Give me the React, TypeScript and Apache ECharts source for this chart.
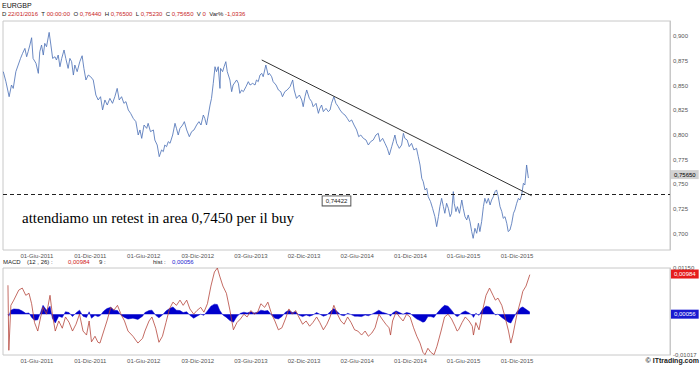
import React, { useEffect, useRef } from "react";
import * as echarts from "echarts";

const DAY = 86400000;
const BASE_DATE = "2011-06-01";

// x-axis ticks
const xTickDates = ["2011-06-01", "2011-12-01", "2012-06-01", "2012-12-03", "2013-06-03", "2013-12-02", "2014-06-02", "2014-12-01", "2015-06-01", "2015-12-01"];
const xTickLabels = ["01-Giu-2011", "01-Dic-2011", "01-Giu-2012", "03-Dic-2012", "03-Giu-2013", "02-Dic-2013", "02-Giu-2014", "01-Dic-2014", "01-Giu-2015", "01-Dic-2015"];
const xRange = ["2011-02-05", "2017-05-08"];

const priceTicks = [0.7, 0.725, 0.75, 0.775, 0.8, 0.825, 0.85, 0.875, 0.9];
const priceRange = [0.6838, 0.9152];
const macdRange = [-0.01017, 0.0115];
const macdTicks = [-0.01017, 0.0115];

// price (days after 2011-06-01, close)
const priceDays = [
  -115, -106, -95, -87, -81, -72, -64, -56, -49, -41,
  -35, -30, -24, -18, -13, -3, 5, 10, 16, 22,
  27, 33, 42, 48, 54, 62, 67, 73, 79, 85,
  93, 99, 107, 113, 119, 125, 130, 138, 147, 155,
  161, 168, 176, 184, 193, 202, 210, 218, 225, 233,
  241, 250, 259, 267, 275, 282, 290, 298, 305, 313,
  321, 330, 339, 347, 353, 359, 367, 376, 381, 389,
  399, 404, 412, 419, 427, 433, 438, 444, 450, 456,
  465, 473, 478, 484, 490, 499, 505, 513, 522, 530,
  538, 547, 555, 562, 570, 575, 581, 587, 593, 598,
  604, 610, 615, 621, 627, 629, 636, 641, 647, 652,
  661, 667, 672, 684, 690, 695, 701, 707, 716, 724,
  730, 739, 747, 752, 758, 764, 770, 775, 784, 792,
  796, 804, 809, 819, 827, 835, 841, 849, 857, 867,
  876, 881, 889, 899, 907, 912, 918, 924, 933, 941,
  946, 956, 964, 969, 975, 981, 990, 998, 1004, 1009,
  1017, 1024, 1032, 1038, 1047, 1055, 1063, 1070, 1078, 1086,
  1095, 1102, 1109, 1118, 1127, 1135, 1143, 1152, 1161, 1169,
  1175, 1184, 1192, 1200, 1207, 1215, 1220, 1226, 1232, 1241,
  1249, 1255, 1260, 1268, 1275, 1283, 1291, 1300, 1306, 1312,
  1318, 1323, 1329, 1335, 1340, 1348, 1355, 1363, 1369, 1375,
  1380, 1386, 1392, 1397, 1403, 1409, 1415, 1420, 1426, 1429,
  1435, 1440, 1447, 1455, 1460, 1466, 1472, 1477, 1483, 1489,
  1494, 1500, 1506, 1512, 1517, 1523, 1529, 1534, 1540, 1546,
  1552, 1557, 1563, 1569, 1574, 1580, 1586, 1592, 1597, 1603,
  1609, 1614, 1620, 1626, 1632, 1637, 1643, 1649, 1654, 1660,
  1666, 1671, 1677, 1683,
];
const priceValues = [
  0.864, 0.8539, 0.8387, 0.8505, 0.8471, 0.864, 0.8707, 0.8774, 0.8825, 0.8875,
  0.8791, 0.8842, 0.8909, 0.8983, 0.8774, 0.8724, 0.8623, 0.8842, 0.8909, 0.8808,
  0.8926, 0.8892, 0.9037, 0.8909, 0.8774, 0.8791, 0.8758, 0.8808, 0.869, 0.8774,
  0.8859, 0.8774, 0.8673, 0.8774, 0.8741, 0.8606, 0.8707, 0.864, 0.8741, 0.8801,
  0.8673, 0.8556, 0.8606, 0.8589, 0.8556, 0.8404, 0.8354, 0.8387, 0.8253, 0.8354,
  0.8303, 0.837, 0.832, 0.8387, 0.8471, 0.8354, 0.8387, 0.832, 0.8337, 0.8253,
  0.8219, 0.8168, 0.8135, 0.8, 0.8051, 0.7966, 0.8101, 0.8067, 0.8118, 0.8034,
  0.8051, 0.7949, 0.7899, 0.7781, 0.7849, 0.7832, 0.7899, 0.7882, 0.7933, 0.7916,
  0.8, 0.8118, 0.8067, 0.8, 0.8067, 0.8101, 0.8135, 0.8051, 0.7983, 0.8034,
  0.8051, 0.8101, 0.8135, 0.8101, 0.8202, 0.8168, 0.8101, 0.8202, 0.8303, 0.837,
  0.8522, 0.869, 0.864, 0.869, 0.8471, 0.8673, 0.864, 0.869, 0.8741, 0.864,
  0.8556, 0.8438, 0.8505, 0.8556, 0.8522, 0.8421, 0.8454, 0.8438, 0.8488, 0.8539,
  0.8505, 0.8522, 0.8505, 0.8556, 0.8539, 0.8606, 0.8623, 0.8589, 0.8707, 0.8606,
  0.8623, 0.8589, 0.8539, 0.8505, 0.8455, 0.8438, 0.8387, 0.8438, 0.8455, 0.8488,
  0.8556, 0.8455, 0.837, 0.8404, 0.8354, 0.8286, 0.8387, 0.8455, 0.837, 0.8337,
  0.8286, 0.832, 0.8219, 0.8269, 0.8303, 0.8236, 0.8269, 0.8236, 0.8253, 0.832,
  0.8387, 0.832, 0.8286, 0.8253, 0.8219, 0.8202, 0.8168, 0.8135, 0.8152, 0.8101,
  0.8051, 0.7983, 0.8, 0.7966, 0.795, 0.7899, 0.7933, 0.795, 0.8, 0.8017,
  0.7933, 0.7966, 0.7916, 0.7865, 0.7798, 0.7882, 0.7933, 0.8, 0.7916, 0.7865,
  0.7899, 0.8017, 0.7966, 0.795, 0.7882, 0.7916, 0.7849, 0.7865, 0.7781, 0.7697,
  0.7562, 0.7529, 0.7445, 0.7462, 0.7377, 0.7327, 0.7259, 0.7175, 0.7074, 0.7175,
  0.7276, 0.736, 0.7276, 0.7209, 0.731, 0.7259, 0.7175, 0.7209, 0.7428, 0.731,
  0.7226, 0.7276, 0.7209, 0.7343, 0.7259, 0.7175, 0.7142, 0.7192, 0.7125, 0.7024,
  0.6956, 0.7057, 0.7007, 0.7108, 0.7024, 0.7125, 0.7276, 0.736, 0.731, 0.736,
  0.7293, 0.7343, 0.7377, 0.7428, 0.7445, 0.7377, 0.7276, 0.7226, 0.7158, 0.7175,
  0.7108, 0.7024, 0.704, 0.7108, 0.7209, 0.7243, 0.731, 0.736, 0.7343, 0.7394,
  0.7512, 0.7495, 0.7697, 0.7565,
];

// MACD (12,26) line and histogram (days after 2011-06-01)
const macdDays = [
  -99, -96, -89, -79, -62, -50, -38, -27, -18, -8,
  3, 13, 21, 33, 45, 53, 63, 75, 87, 98,
  110, 122, 134, 146, 158, 170, 179, 187, 199, 209,
  216, 229, 240, 253, 264, 276, 288, 300, 312, 329,
  346, 362, 370, 384, 394, 407, 418, 430, 442, 454,
  466, 478, 490, 501, 513, 524, 537, 548, 561, 572,
  584, 596, 608, 618, 626, 637, 649, 661, 673, 685,
  697, 709, 720, 733, 744, 756, 767, 780, 791, 804,
  815, 827, 839, 851, 863, 875, 886, 897, 910, 922,
  934, 945, 958, 969, 981, 993, 1004, 1017, 1029, 1041,
  1052, 1064, 1076, 1088, 1099, 1112, 1124, 1135, 1147, 1158,
  1171, 1182, 1195, 1206, 1211, 1218, 1230, 1242, 1254, 1266,
  1278, 1290, 1301, 1312, 1322, 1329, 1339, 1349, 1360, 1370,
  1384, 1396, 1408, 1420, 1432, 1439, 1444, 1456, 1467, 1480,
  1491, 1495, 1503, 1514, 1526, 1538, 1550, 1562, 1570, 1579,
  1592, 1603, 1615, 1623, 1630, 1644, 1657, 1664, 1675, 1688,
];
const macdValues = [
  0.0072, -0.009, 0.0022, 0.0035, 0.006, 0.0065, 0.0047, 0.0052, 0.0026, -0.0021,
  -0.0042, -0.0007, 0.0017, 0.0, 0.0047, 0.0, -0.0042, -0.0017, -0.0035, -0.0007,
  -0.002, -0.0042, -0.0025, 0.0, -0.0042, -0.0052, -0.0017, -0.0069, -0.0055, -0.007,
  -0.0072, -0.0042, -0.0017, 0.0017, 0.001, 0.0022, 0.0, -0.0017, -0.0042, -0.0055,
  -0.0072, -0.006, -0.0042, -0.0017, -0.0007, -0.0035, -0.007, -0.0055, -0.0021, 0.0013,
  0.003, 0.0022, 0.0035, 0.0022, 0.0035, 0.0013, 0.0, 0.0009, 0.0017, 0.0005,
  0.0026, 0.007, 0.0105, 0.0115, 0.0095, 0.007, 0.0052, 0.001, -0.0039, -0.0021,
  -0.0012, 0.0, -0.0007, 0.0009, 0.0, 0.0005, 0.0026, 0.0017, 0.003, 0.0,
  -0.0017, -0.0039, -0.0034, -0.0012, 0.0013, 0.0, 0.0009, -0.0007, -0.0025, -0.0017,
  -0.003, -0.0021, -0.0007, -0.0021, -0.0039, -0.0025, -0.0007, 0.0022, 0.0, -0.0017,
  -0.0025, -0.0007, -0.0021, -0.0039, -0.0042, -0.0052, -0.0042, -0.0055, -0.0047, -0.0034,
  0.0, -0.0012, -0.0025, -0.0034, -0.0052, -0.0017, 0.0005, -0.0007, -0.0017, 0.0,
  -0.0007, -0.0034, -0.0055, -0.0072, -0.0095, -0.0101, -0.0085, -0.0095, -0.0101, -0.008,
  -0.0042, -0.0007, 0.0, -0.0012, -0.003, -0.0042, -0.0039, -0.0021, -0.0007, -0.0017,
  -0.003, -0.0052, -0.0021, -0.0039, 0.0009, 0.0047, 0.0065, 0.0047, 0.0035, 0.004,
  0.0022, -0.0007, -0.0042, -0.0072, -0.0052, 0.0, 0.0035, 0.0057, 0.007, 0.00984,
];
const histValues = [
  0.0, -0.0005, 0.001, 0.0013, 0.0012, 0.0008, 0.0002, 0.0003, -0.0008, -0.0015,
  -0.0014, 0.0005, 0.0022, 0.001, 0.002, -0.001, -0.0022, -0.0005, -0.0008, 0.0006,
  0.0004, -0.0006, 0.0003, 0.001, -0.0005, -0.0008, 0.0006, -0.001, -0.0003, -0.0006,
  -0.0004, 0.0008, 0.0014, 0.0017, 0.001, 0.0009, -0.0003, -0.0008, -0.0012, -0.001,
  -0.0013, -0.0005, 0.0004, 0.0009, 0.001, -0.0003, -0.0009, -0.0002, 0.0008, 0.0014,
  0.0018, 0.001, 0.0009, 0.0004, 0.0006, -0.0003, -0.001, -0.0005, 0.0, -0.0003,
  0.0008, 0.002, 0.0025, 0.0024, 0.001, -0.0002, -0.0008, -0.0016, -0.002, -0.0006,
  0.0002, 0.0005, 0.0003, 0.0006, 0.0003, 0.0005, 0.001, 0.0008, 0.0009, -0.0003,
  -0.001, -0.0012, -0.0006, 0.0005, 0.001, 0.0004, 0.0006, -0.0002, -0.0006, -0.0002,
  -0.0005, -0.0002, 0.0004, 0.0, -0.0005, -0.0002, 0.0006, 0.0014, 0.0006, -0.0002,
  -0.0004, 0.0002, -0.0001, -0.0005, -0.0005, -0.0006, -0.0002, -0.0004, 0.0, 0.0004,
  0.001, 0.0005, 0.0002, -0.0001, -0.0005, 0.0003, 0.0008, 0.0004, 0.0, 0.0004,
  0.0002, -0.0006, -0.0012, -0.0016, -0.002, -0.0018, -0.0006, -0.0006, -0.0008, 0.0002,
  0.0014, 0.0022, 0.002, 0.001, -0.0002, -0.0006, -0.0004, 0.0004, 0.0008, 0.0003,
  -0.0003, -0.0008, 0.0002, -0.0003, 0.0012, 0.002, 0.0018, 0.0005, -0.0002, 0.0,
  -0.0008, -0.0014, -0.002, -0.0022, -0.0012, 0.0006, 0.0016, 0.0018, 0.0012, 0.00056,
];

// annotations
const supportLevel = 0.74422;
const lastClose = 0.7565;
const lastMacd = 0.00984;
const lastHist = 0.00056;
const trendDates = ["2013-07-10", "2016-01-20"];
const trendValues = [0.8758, 0.7387];
const headerFields = [["D", "22/01/2016"], ["T", "00:00:00"], ["O", "0,76440"], ["H", "0,76500"], ["L", "0,75230"], ["C", "0,75650"], ["V", "0"], ["Var%", "-1,0336"]];
const symbolName = "EURGBP";
const noteText = "attendiamo un retest in area 0,7450 per il buy";

const SANS = "Liberation Sans, Arial, sans-serif";
const comma = (v: number, d: number) => v.toFixed(d).replace(".", ",");

export default function App() {
  const ref = useRef<HTMLDivElement>(null);
  useEffect(() => {
    const chart = echarts.init(ref.current!, null, { renderer: "svg" });
    const base = Date.parse(BASE_DATE);
    const toDay = (s: string) => Math.round((Date.parse(s) - base) / DAY);
    const tickDays = xTickDates.map(toDay);
    const labelFor = (v: number) => {
      let best = 0;
      tickDays.forEach((t, i) => {
        if (Math.abs(t - v) < Math.abs(tickDays[best] - v)) best = i;
      });
      return xTickLabels[best];
    };
    const priceData = priceDays.map((d, i) => [d, priceValues[i]]);
    const macdData = macdDays.map((d, i) => [d, macdValues[i]]);
    const histData = macdDays.map((d, i) => [d, histValues[i]]);

    const xAxis = (gridIndex: number, margin: number) => ({
      type: "value",
      gridIndex,
      min: toDay(xRange[0]),
      max: toDay(xRange[1]),
      axisLine: { show: false, onZero: false },
      axisTick: { show: false },
      splitLine: { show: false },
      axisLabel: {
        customValues: tickDays,
        formatter: (v: number) => labelFor(v),
        fontSize: 6,
        color: "#555",
        fontFamily: SANS,
        margin,
        hideOverlap: false,
      },
    });
    const hidden = { color: "rgba(0,0,0,0)", width: 0 };
    const boxLabel = (text: string, bg: string, fg: string) => ({
      show: true,
      position: "end",
      distance: 1,
      formatter: text,
      backgroundColor: bg,
      color: fg,
      fontSize: 6,
      fontFamily: SANS,
      padding: [2, 3, 1, 3],
    });
    const small = (x: number, y: number, text: string, fill: string) => ({
      type: "text",
      x,
      y,
      style: { text, fontSize: 6, fontFamily: SANS, fill },
    });

    chart.setOption({
      animation: false,
      backgroundColor: "#ffffff",
      grid: [
        { left: 3, top: 21, width: 667, height: 229, show: true, borderColor: "#c8c8c8", borderWidth: 1 },
        { left: 3, top: 268, width: 667, height: 87, show: true, borderColor: "#c8c8c8", borderWidth: 1 },
      ],
      xAxis: [xAxis(0, 3), xAxis(1, 3)],
      yAxis: [
        {
          type: "value",
          gridIndex: 0,
          position: "right",
          min: priceRange[0],
          max: priceRange[1],
          axisLine: { show: true, onZero: false, lineStyle: { color: "#c8c8c8" } },
          axisTick: { show: false },
          splitLine: { show: false },
          axisLabel: { customValues: priceTicks, formatter: (v: number) => comma(v, 3), fontSize: 6, color: "#555", fontFamily: SANS, margin: 3 },
        },
        {
          type: "value",
          gridIndex: 1,
          position: "right",
          min: macdRange[0],
          max: macdRange[1],
          axisLine: { show: true, onZero: false, lineStyle: { color: "#c8c8c8" } },
          axisTick: { show: false },
          splitLine: { show: false },
          axisLabel: { customValues: macdTicks, formatter: (v: number) => comma(v, 5), fontSize: 6, color: "#555", fontFamily: SANS, margin: 3 },
        },
      ],
      series: [
        {
          type: "line",
          xAxisIndex: 0,
          yAxisIndex: 0,
          data: priceData,
          showSymbol: false,
          lineStyle: { color: "#5275b8", width: 0.85 },
          markLine: {
            silent: true,
            symbol: ["none", "none"],
            data: [
              {
                yAxis: supportLevel,
                lineStyle: { type: [4, 3], color: "#222", width: 1 },
                label: {
                  show: true,
                  position: "insideMiddleBottom",
                  formatter: comma(supportLevel, 5),
                  backgroundColor: "#fff",
                  borderColor: "#555",
                  borderWidth: 1,
                  color: "#222",
                  fontSize: 6,
                  fontFamily: SANS,
                  padding: [2, 3, 1, 3],
                  distance: 2,
                },
              },
              [
                { coord: [toDay(trendDates[0]), trendValues[0]], lineStyle: { type: "solid", color: "#333", width: 1 }, label: { show: false } },
                { coord: [toDay(trendDates[1]), trendValues[1]] },
              ],
            ],
          },
        },
        {
          type: "line",
          xAxisIndex: 0,
          yAxisIndex: 0,
          data: [],
          markLine: {
            silent: true,
            symbol: ["none", "none"],
            lineStyle: hidden,
            data: [{ yAxis: lastClose, label: boxLabel(comma(lastClose, 5), "#d2d2d2", "#000") }],
          },
        },
        {
          type: "line",
          xAxisIndex: 1,
          yAxisIndex: 1,
          data: histData,
          showSymbol: false,
          lineStyle: { color: "#0000cc", width: 0.5 },
          areaStyle: { color: "#0000cc", opacity: 1, origin: 0 },
        },
        {
          type: "line",
          xAxisIndex: 1,
          yAxisIndex: 1,
          data: macdData,
          showSymbol: false,
          lineStyle: { color: "#b5463c", width: 0.8 },
        },
        {
          type: "line",
          xAxisIndex: 1,
          yAxisIndex: 1,
          data: [],
          markLine: {
            silent: true,
            symbol: ["none", "none"],
            lineStyle: hidden,
            data: [
              { yAxis: lastMacd, label: boxLabel(comma(lastMacd, 5), "#e51c1c", "#fff") },
              { yAxis: lastHist, label: boxLabel(comma(lastHist, 5), "#1a1ad0", "#fff") },
            ],
          },
        },
      ],
      graphic: [
        { type: "text", x: 2, y: 2, style: { text: symbolName, fontSize: 7, fontFamily: SANS, fill: "#111" } },
        {
          type: "text",
          x: 2,
          y: 11,
          style: {
            text: headerFields.map(([k, v]) => `{k|${k}} {v|${v}}`).join("  "),
            fontSize: 6,
            fontFamily: SANS,
            rich: {
              k: { fill: "#222", fontSize: 6, fontFamily: SANS },
              v: { fill: "#c81e1e", fontSize: 6, fontFamily: SANS },
            },
          },
        },
        small(3, 259, "MACD", "#222"),
        small(27, 259, "(12 , 26) :", "#222"),
        small(68, 259, comma(lastMacd, 5), "#d01818"),
        small(99, 259, "9 :", "#222"),
        small(153, 259, "hist :", "#222"),
        small(172, 259, comma(lastHist, 5), "#1a1ad0"),
        { type: "text", x: 22, y: 210, style: { text: noteText, fontSize: 15, fontFamily: "Liberation Serif, Times New Roman, serif", fill: "#000" } },
        { type: "text", x: 699, y: 357, style: { text: "© ITtrading.com", align: "right", fontSize: 7, fontWeight: "bold", fontFamily: SANS, fill: "#222" } },
      ],
    });
    return () => chart.dispose();
  }, []);
  return <div ref={ref} style={{ position: "absolute", left: 0, top: 0, width: 700, height: 365 }} />;
}
